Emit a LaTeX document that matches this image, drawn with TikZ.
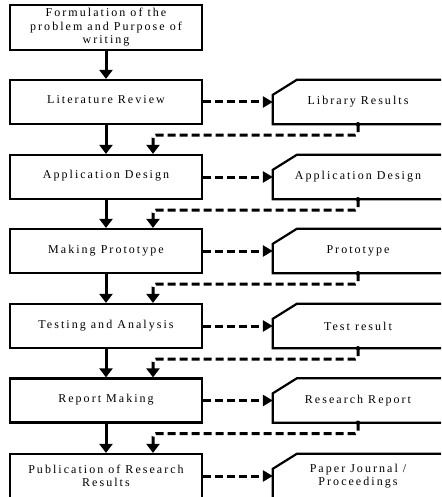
\documentclass[tikz,border=0pt]{standalone}
\usepackage{fontspec}
\setmainfont{Liberation Serif}[LetterSpace=17]
\usetikzlibrary{arrows.meta,calc}
\tikzset{
  lbox/.style={draw, line width=2.2pt, minimum width=192pt, minimum height=44pt, inner sep=0pt, align=center, font=\fontsize{12}{13.5}\selectfont},
  rbox/.style={minimum width=170pt, minimum height=44pt, inner sep=0pt, align=center, font=\fontsize{12}{13.5}\selectfont},
  rline/.style={line width=2.2pt, line join=miter},
  solidarr/.style={line width=3pt, -{Triangle[width=13pt,length=9pt]}},
  dasharr/.style={line width=3pt, dash pattern=on 8pt off 4pt, -{Triangle[width=11pt,length=10pt]}},
  dret/.style={line width=3pt, dash pattern=on 8pt off 4pt, rounded corners=3pt, -{Triangle[width=13pt,length=9pt]}},
}
\begin{document}
\begin{tikzpicture}[x=1pt,y=-1pt]
\useasboundingbox (0,0) rectangle (441,497);
\clip (0,0) rectangle (441,497);
\fill[white] (0,0) rectangle (441,497);
% left boxes
\node[lbox, minimum height=45pt] (l1) at (106,27.5) {Formulation of the\\problem and Purpose of\\writing};
\node[lbox] (l2) at (106,102) {\raisebox{5pt}{Literature Review}};
\node[lbox] (l3) at (106,177) {\raisebox{5pt}{Application Design}};
\node[lbox] (l4) at (106,251) {Making Prototype};
\node[lbox] (l5) at (106,326) {Testing and Analysis};
\node[lbox] (l6) at (106,400.5) {\raisebox{5pt}{Report Making}};
\node[lbox] (l7) at (106,476) {Publication of Research\\Results};
% right boxes
\node[rbox] (r2) at (358,102) {Library Results};
\node[rbox] (r3) at (358,177) {Application Design};
\node[rbox] (r4) at (358,251) {Prototype};
\node[rbox] (r5) at (358,326) {Test result};
\node[rbox] (r6) at (358,400.5) {Research Report};
\node[rbox] (r7) at (358,476) {Paper Journal /\\Proceedings};
\foreach \r in {r2,r3,r4,r5,r6,r7}{
  \draw[rline] ([yshift=-15pt]\r.north west) -- ([xshift=24pt]\r.north west) -- (\r.north east) -- (\r.south east) -- (\r.south west) -- cycle;
}
% solid arrows
\foreach \a/\b in {l1/l2,l2/l3,l3/l4,l4/l5,l5/l6,l6/l7}{
  \draw[solidarr] (\a.south) -- (\b.north);
}
% dashed horizontal arrows
\foreach \i in {2,...,7}{
  \draw[dasharr] (l\i.east) -- (r\i.west);
}
% dashed return arrows
\foreach \i/\j in {2/3,3/4,4/5,5/6,6/7}{
  \fill (r\i.south) circle (2.2pt);
  \draw[dret] (r\i.south) -- ++(0,11) -| ([xshift=47pt]l\j.north);
}
\end{tikzpicture}
\end{document}
